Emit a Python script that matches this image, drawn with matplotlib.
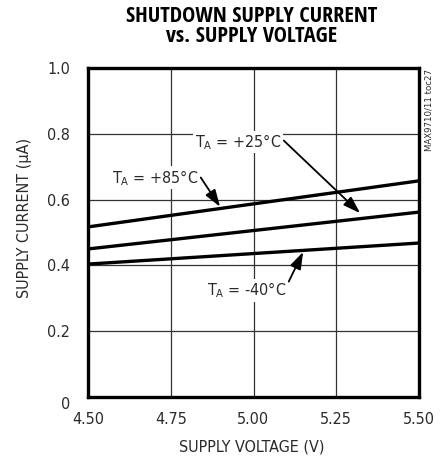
import matplotlib
matplotlib.use("Agg")
import matplotlib.pyplot as plt
import matplotlib.transforms as mtransforms

plt.rcParams['font.family'] = ['DejaVu Sans']
plt.rcParams['font.stretch'] = 'condensed'
plt.rcParams['mathtext.fontset'] = 'custom'
plt.rcParams['mathtext.rm'] = 'DejaVu Sans'

voltage = [4.50, 4.75, 5.00, 5.25, 5.50]
i_85 = [0.517, 0.552, 0.587, 0.622, 0.657]
i_25 = [0.450, 0.478, 0.506, 0.534, 0.562]
i_m40 = [0.404, 0.420, 0.436, 0.452, 0.468]

xticks = [4.50, 4.75, 5.00, 5.25, 5.50]
xticklabels = ["4.50", "4.75", "5.00", "5.25", "5.50"]
yticks = [0, 0.2, 0.4, 0.6, 0.8, 1.0]
yticklabels = ["0", "0.2", "0.4", "0.6", "0.8", "1.0"]

TXT = '#2a2a2a'
FS = 11.5

fig = plt.figure(figsize=(4.42, 4.59), dpi=100)
ax = fig.add_axes([88/442, 1-397/459, 331/442, 329/459])

for ys in (i_85, i_25, i_m40):
    ax.plot(voltage, ys, color='black', lw=2.4, solid_capstyle='butt', zorder=3)

ax.set_xlim(4.5, 5.5)
ax.set_ylim(0, 1.0)
ax.set_xticks(xticks)
ax.set_xticklabels(xticklabels)
ax.set_yticks(yticks)
ax.set_yticklabels(yticklabels)
ax.tick_params(axis='x', length=0, labelsize=FS, pad=11, colors=TXT)
ax.tick_params(axis='y', length=0, labelsize=FS, pad=13, colors=TXT)
ax.grid(True, color='#333333', lw=0.9)
ax.set_axisbelow(True)
for s in ax.spines.values():
    s.set_linewidth(2.4)
    s.set_zorder(4)

# the "0" label sits a little lower in the reference
lab0 = ax.get_yticklabels()[0]
lab0.set_transform(lab0.get_transform() + mtransforms.ScaledTranslation(0, -6/100, fig.dpi_scale_trans))

fig.text(252/442, 1-447/459, "SUPPLY VOLTAGE (V)", ha='center', va='center', fontsize=FS, color=TXT)
fig.text(25/442, 1-218/459, "SUPPLY CURRENT (μA)", ha='center', va='center', rotation=90,
         fontsize=FS, color=TXT)

title_kw = dict(ha='center', va='center', fontsize=16, fontweight='bold',
                family=['Open Sans Condensed', 'DejaVu Sans'], color='black')
fig.text(252/442, 1-16/459, "SHUTDOWN SUPPLY CURRENT", **title_kw)
fig.text(252/442, 1-36/459, "vs. SUPPLY VOLTAGE", **title_kw)

fig.text(429/442, 1-69/459, "MAX9710/11 toc27", rotation=90, ha='center', va='top',
         fontsize=6.8, color=TXT)

bb = dict(boxstyle='square,pad=0.1', fc='white', ec='none')


def ap(rel):
    return dict(arrowstyle='-|>,head_length=0.9,head_width=0.3', color='black', lw=1.3,
                shrinkA=1, shrinkB=0, relpos=rel)


ax.annotate("T$_\\mathregular{A}$ = +85°C", xy=(4.899, 0.578), xytext=(4.573, 0.666),
            fontsize=FS, color=TXT, ha='left', va='center', arrowprops=ap((1, 0.7)), bbox=bb, zorder=5)
ax.annotate("T$_\\mathregular{A}$ = +25°C", xy=(5.322, 0.559), xytext=(4.823, 0.775),
            fontsize=FS, color=TXT, ha='left', va='center', arrowprops=ap((1, 0.7)), bbox=bb, zorder=5)
ax.annotate("T$_\\mathregular{A}$ = -40°C", xy=(5.15, 0.441), xytext=(4.86, 0.325),
            fontsize=FS, color=TXT, ha='left', va='center', arrowprops=ap((1, 0.7)), bbox=bb, zorder=5)

fig.savefig("out.png", dpi=100)
